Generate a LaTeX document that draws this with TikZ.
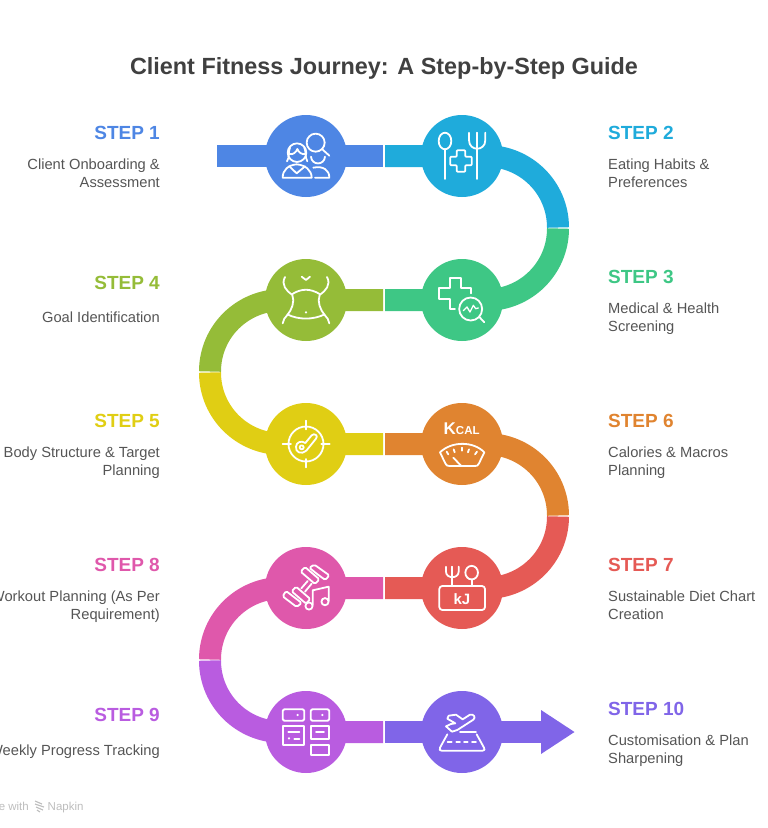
\documentclass[tikz,border=0pt]{standalone}
\usepackage{fontspec}
\setmainfont{Liberation Sans}
\definecolor{cA}{HTML}{4E86E4}
\definecolor{cB}{HTML}{1FABDB}
\definecolor{cC}{HTML}{3EC785}
\definecolor{cD}{HTML}{95BC38}
\definecolor{cE}{HTML}{E0CE14}
\definecolor{cF}{HTML}{E08430}
\definecolor{cG}{HTML}{E55A55}
\definecolor{cH}{HTML}{DF58AB}
\definecolor{cI}{HTML}{B95CE0}
\definecolor{cJ}{HTML}{8065E8}
\definecolor{titlecol}{HTML}{404040}
\definecolor{bodycol}{HTML}{555555}
\definecolor{markcol}{HTML}{BDBDBD}
\tikzset{
  band/.style={line width=22pt},
  disc/.style={circle,fill=#1,draw=none,minimum size=82pt,inner sep=0pt},
  ico/.style={white,line width=1.8pt,line cap=round,line join=round},
  steplabel/.style={font=\fontsize{19}{22}\selectfont\bfseries,inner sep=0pt,text=#1},
  lefttext/.style={font=\fontsize{14.7}{18}\selectfont,text=bodycol,inner sep=0pt,anchor=north east,align=right},
  righttext/.style={font=\fontsize{14.7}{18}\selectfont,text=bodycol,inner sep=0pt,anchor=north west,align=left},
}
\begin{document}
\begin{tikzpicture}[x=1pt,y=-1pt]
\useasboundingbox (0,0) rectangle (768,828);
\clip (0,0) rectangle (768,828);
\coordinate (p1) at (306,156);\coordinate (p2) at (462,156);
\coordinate (p3) at (462,300);\coordinate (p4) at (306,300);
\coordinate (p5) at (306,444);\coordinate (p6) at (462,444);
\coordinate (p7) at (462,588);\coordinate (p8) at (306,588);
\coordinate (p9) at (306,732);\coordinate (p10) at (462,732);
\node[font=\fontsize{23.4}{28}\selectfont\bfseries,text=titlecol,inner sep=0pt,anchor=base] (title) at (384,74) {Client Fitness Journey: A Step-by-Step Guide};
% bands
\draw[band,cA] (217,156) -- (383,156);
\draw[band,cB] (385,156) -- (486,156) .. controls +(39.8,0) and +(0,-39.8) .. (558,227.5);
\draw[band,cC] (558,228.5) .. controls +(0,39.8) and +(39.8,0) .. (486,300) -- (385,300);
\draw[band,cD] (383,300) -- (282,300) .. controls +(-39.8,0) and +(0,-39.8) .. (210,371.5);
\draw[band,cE] (210,372.5) .. controls +(0,39.8) and +(-39.8,0) .. (282,444) -- (383,444);
\draw[band,cF] (385,444) -- (486,444) .. controls +(39.8,0) and +(0,-39.8) .. (558,515.5);
\draw[band,cG] (558,516.5) .. controls +(0,39.8) and +(39.8,0) .. (486,588) -- (385,588);
\draw[band,cH] (383,588) -- (282,588) .. controls +(-39.8,0) and +(0,-39.8) .. (210,659.5);
\draw[band,cI] (210,660.5) .. controls +(0,39.8) and +(-39.8,0) .. (282,732) -- (383,732);
\draw[band,cJ] (385,732) -- (542,732);
\fill[cJ] (541,710) -- (574.5,732) -- (541,754) -- cycle;
% discs
\node[disc=cA] (c1) at (p1) {};\node[disc=cB] (c2) at (p2) {};
\node[disc=cC] (c3) at (p3) {};\node[disc=cD] (c4) at (p4) {};
\node[disc=cE] (c5) at (p5) {};\node[disc=cF] (c6) at (p6) {};
\node[disc=cG] (c7) at (p7) {};\node[disc=cH] (c8) at (p8) {};
\node[disc=cI] (c9) at (p9) {};\node[disc=cJ] (c10) at (p10) {};
% icons, zoom crop 1
\begin{scope}[shift={(260,105)},x=0.33333pt,y=-0.33333pt,ico]
 % 1
 \draw (167,113) circle[radius=9pt];
 \draw (187,133) -- (208,152);
 \draw (111,143) circle[radius=9.3pt];
 \draw (81,169) .. controls (90,155) and (84,140) .. (90,128);
 \draw (142,169) .. controls (134,155) and (139,140) .. (133,128);
 \draw (87,147) .. controls (100,150) and (108,142) .. (112,132) .. controls (116,142) and (126,150) .. (137,147);
 \draw (68,218) .. controls (68,195) and (85,180) .. (110,178) .. controls (135,180) and (155,195) .. (155,218) -- cycle;
 \draw (88,184) -- (110,205) -- (135,184);
 \draw (153,155) .. controls (155,182) and (193,182) .. (195,155);
 \draw (160,188) .. controls (190,182) and (208,195) .. (208,218) -- (165,218);
 % 2
 \draw (555,108) ellipse[x radius=6.3pt,y radius=8.3pt];
 \draw (555,133) -- (555,222);
 \draw (627,83) -- (627,105) .. controls (627,140) and (676,140) .. (676,105) -- (676,83);
 \draw (651,83) -- (651,222);
 \draw[rounded corners=0.8pt] (590,136) -- (616,136) -- (616,155) -- (635,155) -- (635,181) -- (616,181) -- (616,200) -- (590,200) -- (590,181) -- (571,181) -- (571,155) -- (590,155) -- cycle;
 % 3
 \draw (585,612) -- (570,612) -- (570,583) -- (538,583) -- (538,550) -- (570,550) -- (570,518) -- (604,518) -- (604,548) -- (634,548) -- (634,565);
 \draw (632,612) circle[radius=11.5pt];
 \draw (658,636) -- (673,652);
 \draw[line width=1.3pt] (610,617) -- (621,606) -- (630,621) -- (640,601) -- (647,611) -- (655,609);
 % 4
 \draw (125,515) -- (138,525) -- (150,515);
 \draw (75,516) .. controls (62,540) and (80,558) .. (97,570) .. controls (105,590) and (95,615) .. (82,630) .. controls (75,637) and (69,645) .. (68,655);
 \draw (201,516) .. controls (214,540) and (196,558) .. (179,570) .. controls (171,590) and (181,615) .. (194,630) .. controls (201,637) and (207,645) .. (208,655);
 \draw (97,567) .. controls (125,550) and (150,550) .. (179,567);
 \draw (82,628) .. controls (115,645) and (160,645) .. (194,628);
 \fill (138,622) circle[radius=1.2pt];
\end{scope}
% zoom crop 2
\begin{scope}[shift={(260,395)},x=0.33333pt,y=-0.33333pt,ico]
 % 5
 \draw (138,147) circle[radius=17.5pt];
 \draw (138,77) -- (138,103);\draw (138,192) -- (138,217);
 \draw (68,147) -- (93,147);\draw (184,147) -- (209,147);
 \draw (136,144) -- (155,121) .. controls (163,113) and (176,122) .. (168,131) -- (139,167) .. controls (125,180) and (105,172) .. (108,155) .. controls (108,142) and (125,135) .. (136,144) -- cycle;
 \draw (125,157) circle[radius=2pt];
 % 6
 \node[inner sep=0pt,text=white,font=\fontsize{17}{17}\selectfont\bfseries] (kcal) at (605,100) {K\fontsize{11.5}{12}\selectfont CAL};
 \draw (540,172) .. controls (575,138) and (640,138) .. (673,172) -- (657,205) .. controls (655,212) and (650,213) .. (645,213) -- (568,213) .. controls (562,213) and (558,211) .. (556,205) -- cycle;
 \draw (560,170) -- (565,178);\draw (581,163) -- (584,172);\draw (605,158) -- (605,167);\draw (627,163) -- (624,172);\draw (651,170) -- (645,178);
 \draw (580,188) -- (603,212);
 % 7
 \draw (558,515) -- (558,530) .. controls (558,552) and (596,552) .. (596,530) -- (596,515);
 \draw (577,515) -- (577,570);
 \draw (635,533) ellipse[x radius=6.3pt,y radius=6.8pt];
 \draw (635,553) -- (635,572);
 \draw[rounded corners=3pt] (538,573) rectangle (675,645);
 \node[inner sep=0pt,text=white,font=\fontsize{15}{15}\selectfont\bfseries] (kj) at (606,611) {kJ};
 % 8
 \draw[rounded corners=1.5pt] (122,530) -- (135,516) -- (178,553) -- (165,567) -- cycle;
 \draw[rounded corners=1.5pt] (148,518) -- (163,509) -- (208,541) -- (196,555) -- (170,536) -- cycle;
 \draw[rounded corners=1.5pt] (151,612) -- (138,626) -- (95,589) -- (108,575) -- cycle;
 \draw[rounded corners=1.5pt] (125,624) -- (110,636) -- (68,604) -- (78,588) -- (103,607) -- cycle;
 \draw (124,580) -- (143,558);\draw (135,590) -- (155,566);
 \draw (147,633) circle[radius=3.6pt];\draw (195,620) circle[radius=3.6pt];
 \draw (158,630) -- (158,586) -- (206,575) -- (206,618);
\end{scope}
% zoom crop 3
\begin{scope}[shift={(260,680)},x=0.33333pt,y=-0.33333pt,ico]
 % 9
 \draw[rounded corners=1.5pt] (68,88) rectangle (133,122);
 \fill (113,105) circle[radius=1.2pt];
 \draw[rounded corners=1.5pt] (152,88) rectangle (208,122);
 \fill (187,105) circle[radius=1.2pt];
 \draw (68,138) rectangle (133,196);
 \draw (85,157) -- (118,157);\fill (87,175) circle[radius=1.2pt];\draw (103,177) -- (118,177);
 \draw (152,138) rectangle (208,177);
 \draw (168,157) -- (192,157);
 \draw (152,194) rectangle (208,226);
 % 10
 \draw (566,107) -- (588,104) -- (608,118) -- (630,104) .. controls (642,102) and (648,112) .. (640,119) -- (592,150) -- (576,155) -- (558,139) -- (573,132) -- (586,130) -- (562,116) -- cycle;
 \draw (600,156) -- (648,156);
 \draw (562,163) -- (540,203) .. controls (537,210) and (540,212) .. (545,212) -- (668,212) .. controls (674,212) and (675,208) .. (672,203) -- (650,163);
 \draw (563,187) -- (575,187);\draw (589,187) -- (600,187);\draw (612,187) -- (623,187);\draw (636,187) -- (648,187);
\end{scope}
% labels
\node[steplabel=cA,anchor=base east] (s1) at (160,139) {STEP 1};
\node[lefttext] (t1) at (160,158.5) {Client Onboarding \&\\Assessment};
\node[steplabel=cB,anchor=base west] (s2) at (608,139) {STEP 2};
\node[righttext] (t2) at (608,158.5) {Eating Habits \&\\Preferences};
\node[steplabel=cC,anchor=base west] (s3) at (608,283) {STEP 3};
\node[righttext] (t3) at (608,302.5) {Medical \& Health\\Screening};
\node[steplabel=cD,anchor=base east] (s4) at (160,289) {STEP 4};
\node[lefttext] (t4) at (160,311.5) {Goal Identification};
\node[steplabel=cE,anchor=base east] (s5) at (160,427) {STEP 5};
\node[lefttext] (t5) at (160,446.5) {Body Structure \& Target\\Planning};
\node[steplabel=cF,anchor=base west] (s6) at (608,427) {STEP 6};
\node[righttext] (t6) at (608,446.5) {Calories \& Macros\\Planning};
\node[steplabel=cG,anchor=base west] (s7) at (608,571) {STEP 7};
\node[righttext] (t7) at (608,590.5) {Sustainable Diet Chart\\Creation};
\node[steplabel=cH,anchor=base east] (s8) at (160,571) {STEP 8};
\node[lefttext] (t8) at (160,590.5) {Workout Planning (As Per\\Requirement)};
\node[steplabel=cI,anchor=base east] (s9) at (160,721) {STEP 9};
\node[lefttext] (t9) at (160,744.5) {Weekly Progress Tracking};
\node[steplabel=cJ,anchor=base west] (s10) at (608,715) {STEP 10};
\node[righttext] (t10) at (608,734.5) {Customisation \& Plan\\Sharpening};
% watermark
\node[font=\fontsize{11.5}{13}\selectfont,text=markcol,inner sep=0pt,anchor=base east] (made) at (29,810) {Made with};
\node[font=\fontsize{11.5}{13}\selectfont,text=markcol,inner sep=0pt,anchor=base west] (nap) at (47.5,810) {Napkin};
\draw[markcol,line width=1.1pt] (35,801) -- (42,804);\draw[markcol,line width=1.1pt] (35,804) -- (44,807);\draw[markcol,line width=1.1pt] (36,807) -- (43,810);\draw[markcol,line width=1.1pt] (37,810) -- (40,812);
\end{tikzpicture}
\end{document}
